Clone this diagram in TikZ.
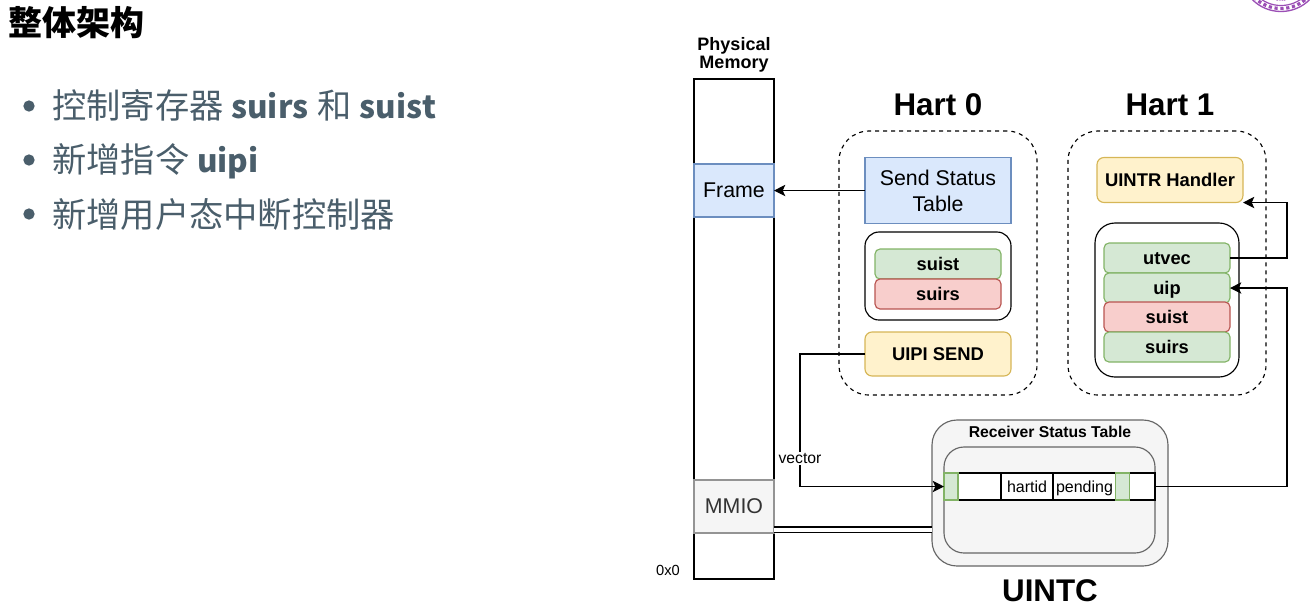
\documentclass[tikz,border=0pt]{standalone}
\usepackage{fontspec}
\setmainfont{Liberation Sans}
\newfontfamily\cjkf{Noto Sans CJK SC}
\usetikzlibrary{arrows.meta}
\definecolor{slate}{HTML}{4A5E6B}
\definecolor{bluef}{HTML}{DAE8FC}\definecolor{bluel}{HTML}{6C8EBF}
\definecolor{greenf}{HTML}{D5E8D4}\definecolor{greenl}{HTML}{82B366}
\definecolor{redf}{HTML}{F8CECC}\definecolor{redl}{HTML}{B85450}
\definecolor{yelf}{HTML}{FFF2CC}\definecolor{yell}{HTML}{D6B656}
\definecolor{grayf}{HTML}{F5F5F5}\definecolor{grayl}{HTML}{666666}
\definecolor{logo}{HTML}{9B4FB5}
\newcommand{\lat}[1]{{\fontsize{23.6}{30}\selectfont\bfseries #1}}
\tikzset{
  x=0.75pt,y=-0.75pt,
  wh/.style 2 args={minimum width=#1*0.75pt,minimum height=#2*0.75pt,inner sep=0pt,outer sep=0pt},
  mline/.style={draw=black,line width=0.85pt},
  rad/.style={rounded corners=#1*0.75pt},
  boxtext/.style={text height=0.905*#1 pt,text depth=0.212*#1 pt},
  regbox/.style={rad=5,line width=0.85pt,boxtext=13.7,font=\fontsize{13.7}{15}\selectfont\bfseries},
  green/.style={regbox,fill=greenf,draw=greenl},
  redr/.style={regbox,fill=redf,draw=redl},
  yel/.style={rad=7,line width=0.85pt,fill=yelf,draw=yell,boxtext=13.8,font=\fontsize{13.8}{15}\selectfont\bfseries},
  cell/.style={mline,fill=white,boxtext=12,font=\fontsize{12}{13}\selectfont},
  gcell/.style={draw=greenl,fill=greenf,line width=0.85pt},
  big/.style={font=\fontsize{23.5}{26}\selectfont\bfseries},
  conn/.style={line width=0.85pt,draw=black},
  arr/.style={conn,-{Stealth[length=8.5pt,width=8.5pt,inset=2pt]}},
  slide/.style={anchor=base west,text=slate,font=\cjkf\fontsize{25.7}{30}\selectfont,inner sep=0pt},
  bul/.style={circle,fill=slate,minimum size=8.5pt,inner sep=0pt},
}
\begin{document}
\begin{tikzpicture}
\useasboundingbox (0,0) rectangle (1310,612);
% logo
\begin{scope}
\clip (0,0) rectangle (1310,612);
\coordinate (lc) at (1281,-29);
\draw[logo,line width=1pt] (lc) circle[radius=40.5*0.75pt];
\draw[logo,line width=2.4pt,dotted] (lc) circle[radius=37.5*0.75pt];
\draw[logo,line width=0.9pt] (lc) circle[radius=34.5*0.75pt];
\node[text=logo,inner sep=0pt,font=\fontsize{3.5}{4}\selectfont] (year) at (1281,0) {1911};
\end{scope}
% slide text
\node[anchor=base west,inner sep=0pt,font=\cjkf\bfseries\fontsize{25.5}{30}\selectfont] (title) at (8,35) {整体架构};
\node[bul] (b1) at (29,106) {};
\node[bul] (b2) at (29,160) {};
\node[bul] (b3) at (29,214) {};
\node[slide] (t1) at (52,118) {控制寄存器 \lat{suirs}\hspace{1.5pt} 和 \lat{suist}};
\node[slide] (t2) at (52,172) {新增指令 \lat{uipi}};
\node[slide] (t3) at (52,227) {新增用户态中断控制器};
% memory
\node[mline,wh={80}{500}] (mem) at (734,329) {};
\node[wh={80}{53},draw=bluel,fill=bluef,line width=0.85pt,font=\fontsize{16}{18}\selectfont] (frame) at (734,190.5) {\raisebox{-0.75pt}{Frame}};
\node[wh={80}{53},draw=grayl!70,fill=grayf,line width=0.85pt,text=black!80,font=\fontsize{16}{18}\selectfont] (mmio) at (734,506.5) {\raisebox{-0.75pt}{MMIO}};
\node[align=center,inner sep=0pt,font=\fontsize{13.5}{13.5}\selectfont\bfseries] (pm) at (734,54.5) {Physical\\Memory};
\node[inner sep=0pt,font=\fontsize{11}{13}\selectfont] (zero) at (668,570) {0x0};
% hart 0
\node[big,inner sep=0pt] (h0) at (938,105) {Hart 0};
\node[wh={198}{264},rad=30,draw=black,dashed,line width=0.85pt] (h0box) at (938,263) {};
\node[wh={146}{66},draw=bluel,fill=bluef,line width=0.85pt,align=center,font=\fontsize{16}{19.5}\selectfont] (sst) at (938,190.5) {Send Status\\Table};
\node[wh={146}{88},rad=14,mline] (r0) at (938,276) {};
\node[green,wh={126}{30}] (suist0) at (938,264) {suist};
\node[redr,wh={126}{30}] (suirs0) at (938,294) {suirs};
\node[yel,wh={146}{44}] (send) at (938,354) {UIPI SEND};
% hart 1
\node[big,inner sep=0pt] (h1) at (1170,105) {Hart 1};
\node[wh={198}{264},rad=30,draw=black,dashed,line width=0.85pt] (h1box) at (1167,263) {};
\node[yel,wh={146}{45}] (hand) at (1170,180) {UINTR Handler};
\node[wh={144}{154},rad=20,mline] (r1) at (1167,300) {};
\node[green,wh={126}{30}] (utvec) at (1167,258) {utvec};
\node[green,wh={126}{30}] (uip) at (1167,288) {uip};
\node[redr,wh={126}{30}] (suist1) at (1167,317) {suist};
\node[green,wh={126}{30}] (suirs1) at (1167,347) {suirs};
% UINTC
\node[wh={236}{146},rad=25,draw=grayl,fill=grayf,line width=0.85pt] (uintc) at (1050,493) {};
\node[inner sep=0pt,font=\fontsize{11.8}{13}\selectfont\bfseries] (rst) at (1050,432) {Receiver Status Table};
\node[wh={211}{106},rad=20,draw=grayl,fill=grayf,line width=0.85pt] (inner) at (1049.5,500) {};
\node[cell,wh={211}{27}] (row) at (1049.5,486.5) {};
\node[cell,wh={43}{27}] (c1) at (979.5,486.5) {};
\node[cell,wh={52}{27}] (c2) at (1027,486.5) {hartid};
\node[cell,wh={63}{27}] (c3) at (1084.5,486.5) {pending};
\node[cell,wh={26}{27}] (c4) at (1142,486.5) {};
\node[gcell,wh={14}{27}] (g1) at (951,486.5) {};
\node[gcell,wh={14}{27}] (g2) at (1122.5,486.5) {};
\node[big,inner sep=0pt] (ut) at (1050,590.5) {UINTC};
% connectors
\coordinate (railA) at (800,0);
\coordinate (railB) at (1287,0);
\coordinate (busL) at (774,529.5);
\coordinate (busR) at (932,529.5);
\draw[arr] (sst.west) -- (frame.east);
\draw[arr] (send.west) -- (send.west -| railA) -- (g1.west -| railA) -- (g1.west);
\node[fill=white,inner sep=1pt,font=\fontsize{11.8}{13}\selectfont] (vec) at (800,458.5) {vector};
\draw[arr] (utvec.east) -- (utvec.east -| railB) -- (hand.south east -| railB) -- (hand.south east);
\draw[arr] (c4.east) -- (c4.east -| railB) -- (uip.east -| railB) -- (uip.east);
\draw[conn,double=white,double distance=3pt] (busL) -- (busR);
\end{tikzpicture}
\end{document}
